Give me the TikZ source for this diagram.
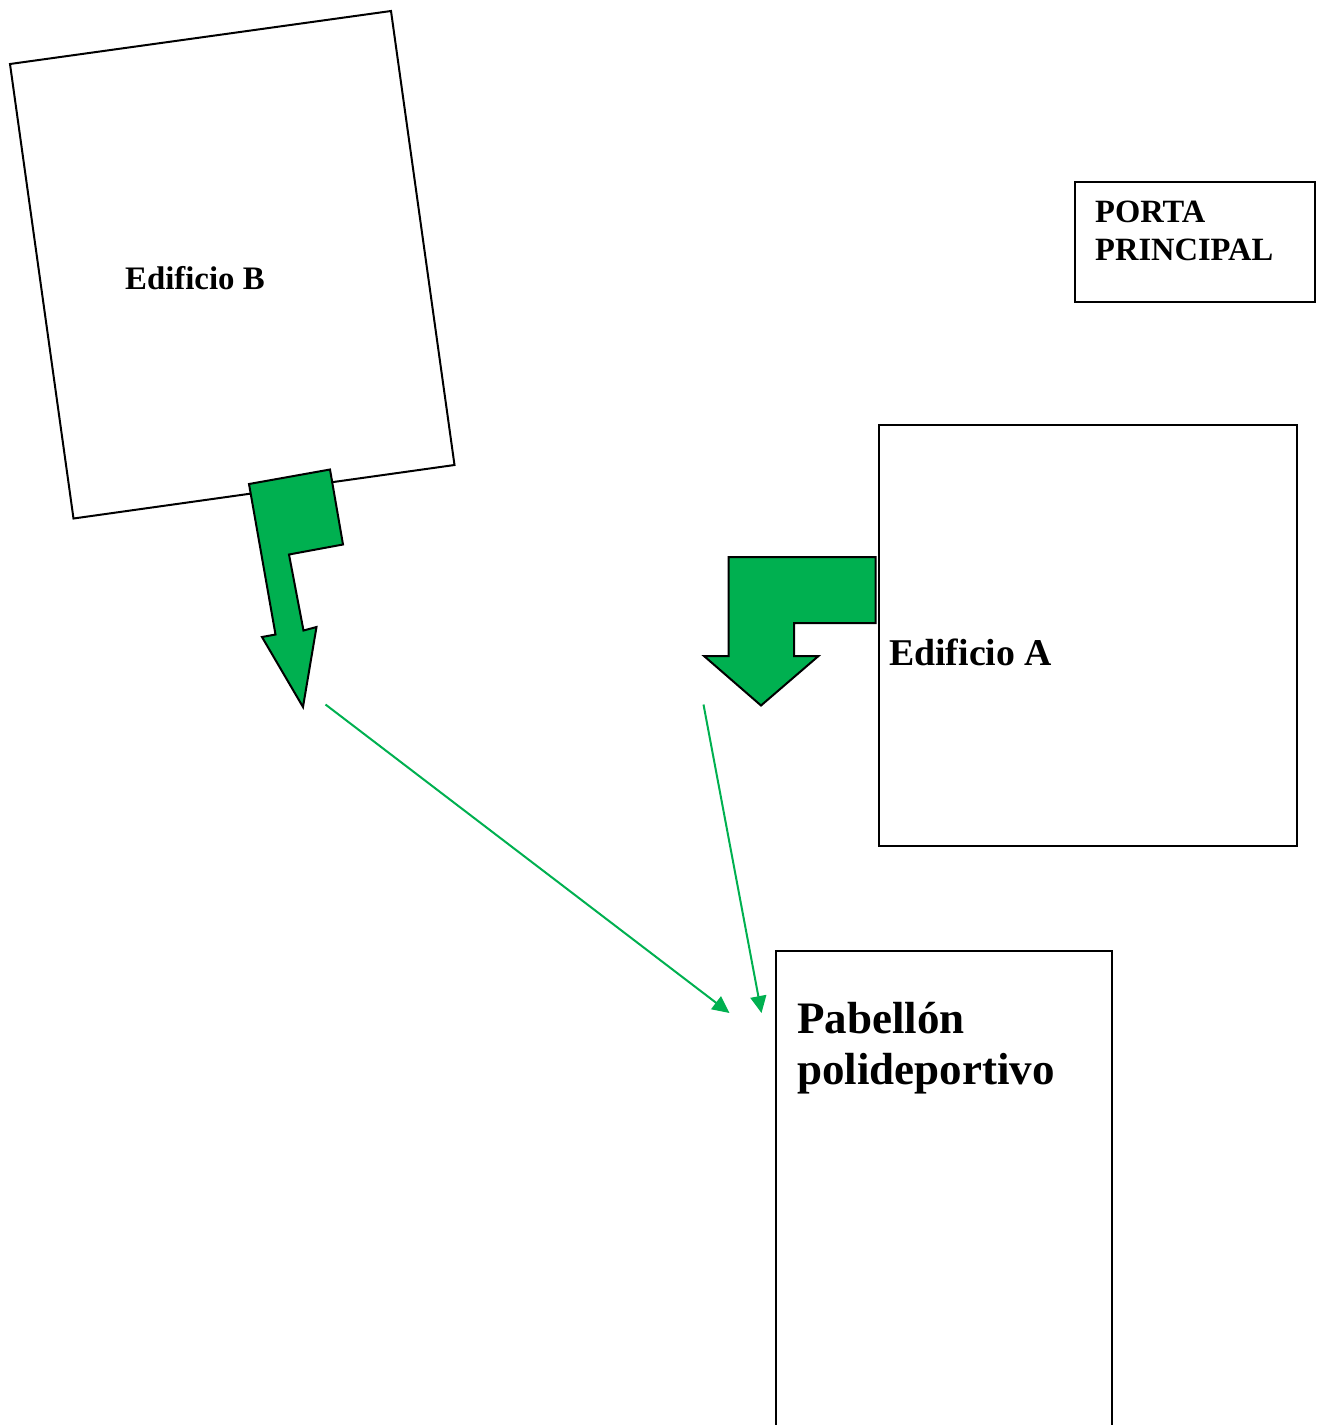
\documentclass[tikz,border=0pt]{standalone}
\usepackage{fontspec}
\setmainfont{Liberation Serif}
\usetikzlibrary{arrows.meta}
\definecolor{grn}{RGB}{0,176,80}
\tikzset{
 bld/.style={draw=black,line width=2pt,fill=white},
 blk/.style={draw=black,line width=2pt,fill=grn,line join=miter},
 lab/.style={inner sep=0pt,anchor=base west,align=left,font=\bfseries},
 thin arrow/.style={draw=grn,line width=2pt,-{Triangle[length=17pt,width=16pt]}}
}
\begin{document}
\begin{tikzpicture}[x=1pt,y=-1pt]
\useasboundingbox (0,0) rectangle (1321,1425);
\draw[bld] (10,64) -- (391,11) -- (454.5,465) -- (73.5,518.5) -- cycle;
\draw[bld] (1074.5,182) rectangle (1315,302);
\draw[bld] (879,425) rectangle (1297,846);
\draw[bld] (776,1430) -- (776,950.5) -- (1112,950.5) -- (1112,1430);
\draw[blk] (249,484) -- (330,469.5) -- (343,544.5) -- (289,554.5) -- (303.5,630.5) -- (316.5,627) -- (303,707) -- (262,637) -- (275.5,634.5) -- cycle;
\draw[blk] (875.5,557) -- (728.5,557) -- (728.5,656) -- (704,656) -- (761,705.5) -- (818.5,656) -- (794,656) -- (794,623) -- (875.5,623) -- cycle;
\node[lab,font=\bfseries\fontsize{32.8}{38}\selectfont] (tb) at (125,289) {Edificio B};
\node[lab,font=\bfseries\fontsize{32.5}{38}\selectfont,text width=220pt] (tp) at (1095,222) {PORTA\\PRINCIPAL};
\node[lab,font=\bfseries\fontsize{37.8}{38}\selectfont] (ta) at (889,665) {Edificio A};
\node[lab,font=\bfseries\fontsize{45}{50.5}\selectfont,text width=300pt] (tq) at (797,1033.5) {Pabellón\\polideportivo};
\coordinate (s1) at (325.5,704.5);
\coordinate (e1) at (729.5,1013);
\coordinate (s2) at (703.5,704.5);
\coordinate (e2) at (761.5,1013);
\draw[thin arrow] (s1) -- (e1);
\draw[thin arrow] (s2) -- (e2);
\end{tikzpicture}
\end{document}
